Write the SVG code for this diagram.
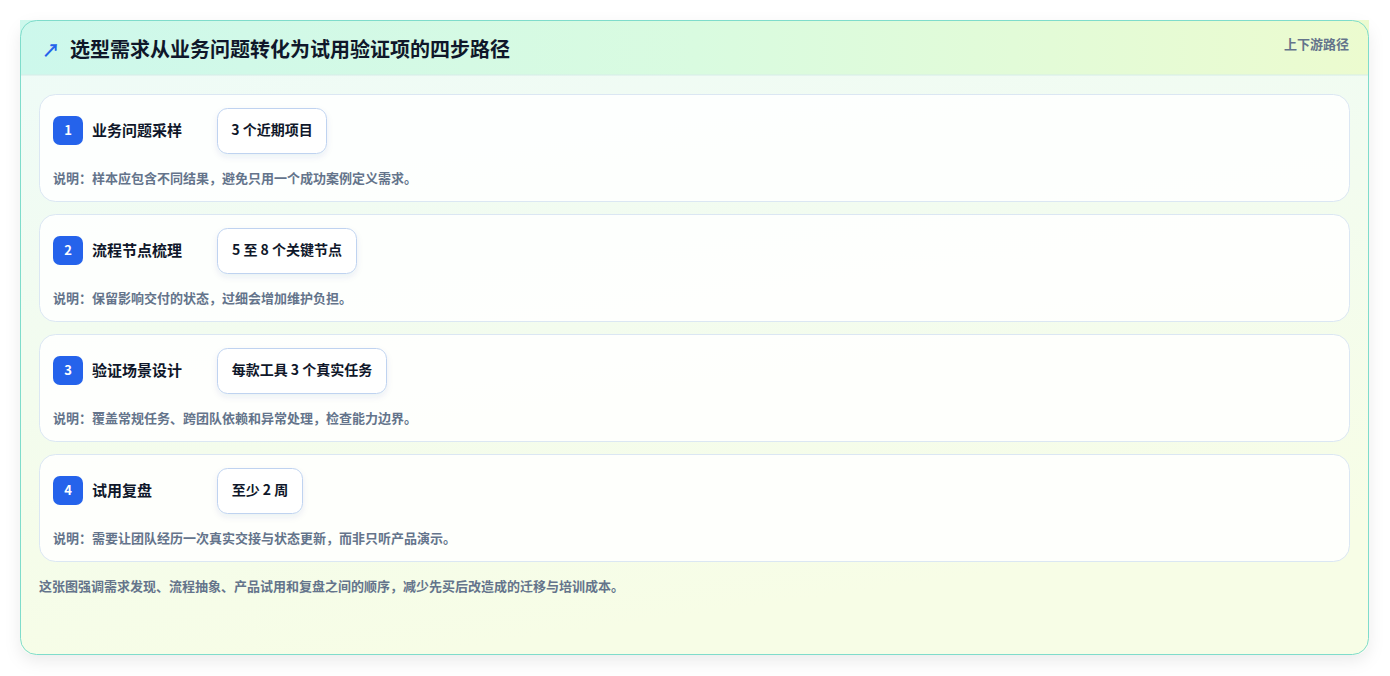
<svg xmlns="http://www.w3.org/2000/svg" width="1390" height="676" viewBox="0 0 1390 676">
<defs>
<linearGradient id="hdr" x1="0" y1="0" x2="1" y2="0">
<stop offset="0" stop-color="#cdf8ec"/>
<stop offset="0.5" stop-color="#d9fbe0"/>
<stop offset="1" stop-color="#ecfbcf"/>
</linearGradient>
<linearGradient id="body" x1="0" y1="0" x2="0.3" y2="1">
<stop offset="0" stop-color="#eefbf8"/>
<stop offset="1" stop-color="#f7fde6"/>
</linearGradient>
<filter id="sh" x="-5%" y="-5%" width="110%" height="115%">
<feDropShadow dx="0" dy="6" stdDeviation="8" flood-color="#0f172a" flood-opacity="0.08"/>
</filter>
<filter id="psh" x="-20%" y="-20%" width="140%" height="160%">
<feDropShadow dx="0" dy="3" stdDeviation="3" flood-color="#1e3a8a" flood-opacity="0.08"/>
</filter>
</defs>
<style>
.f{font-family:"Noto Sans CJK SC","Noto Sans",sans-serif;}
.title{font-size:20px;font-weight:700;fill:#0f172a;}
.tag{font-size:13px;font-weight:700;fill:#64748b;}
.step{fill:#ffffff;fill-opacity:0.85;stroke:#dbe7f3;stroke-width:1;}
.badge{fill:#2563eb;}
.num{font-size:13px;font-weight:700;fill:#ffffff;text-anchor:middle;}
.name{font-size:15px;font-weight:700;fill:#0f172a;}
.pill{fill:#ffffff;stroke:#bfd3f0;stroke-width:1;}
.pt{font-size:14px;font-weight:700;fill:#0f172a;}
.desc{font-size:13px;font-weight:700;fill:#64748b;}
</style>
<rect x="0" y="0" width="1390" height="676" fill="#ffffff"/>
<g id="card">
<rect x="20" y="20" width="1349" height="635" rx="16" fill="url(#body)" filter="url(#sh)"/>
<rect x="20" y="20" width="1349" height="55" fill="url(#hdr)"/>
<line x1="20" y1="75" x2="1369" y2="75" stroke="#d6ece8" stroke-width="1"/>
<rect x="20.5" y="20.5" width="1348" height="634" rx="16" fill="none" stroke="#7fdccb" stroke-width="1"/>
<text class="f" x="42" y="57" font-size="18" font-weight="700" fill="#2563eb">↗</text>
<text class="f title" x="70" y="57">选型需求从业务问题转化为试用验证项的四步路径</text>
<text class="f tag" x="1349" y="49" text-anchor="end">上下游路径</text>
</g>
<g id="step1">
<rect class="step" x="39.5" y="94.5" width="1310" height="107" rx="16"/>
<rect class="badge" x="53" y="116" width="30" height="29" rx="7"/>
<text class="f num" x="68" y="135">1</text>
<text class="f name" x="92" y="136">业务问题采样</text>
<rect class="pill" x="217.5" y="108.5" width="109" height="45" rx="10" filter="url(#psh)"/>
<text class="f pt" x="272" y="135" text-anchor="middle">3 个近期项目</text>
<text class="f desc" x="53" y="183">说明：样本应包含不同结果，避免只用一个成功案例定义需求。</text>
</g>
<g id="step2">
<rect class="step" x="39.5" y="214.5" width="1310" height="107" rx="16"/>
<rect class="badge" x="53" y="236" width="30" height="29" rx="7"/>
<text class="f num" x="68" y="255">2</text>
<text class="f name" x="92" y="256">流程节点梳理</text>
<rect class="pill" x="217.5" y="228.5" width="139" height="45" rx="10" filter="url(#psh)"/>
<text class="f pt" x="287" y="255" text-anchor="middle">5 至 8 个关键节点</text>
<text class="f desc" x="53" y="303">说明：保留影响交付的状态，过细会增加维护负担。</text>
</g>
<g id="step3">
<rect class="step" x="39.5" y="334.5" width="1310" height="107" rx="16"/>
<rect class="badge" x="53" y="356" width="30" height="29" rx="7"/>
<text class="f num" x="68" y="375">3</text>
<text class="f name" x="92" y="376">验证场景设计</text>
<rect class="pill" x="217.5" y="348.5" width="169" height="45" rx="10" filter="url(#psh)"/>
<text class="f pt" x="302" y="375" text-anchor="middle">每款工具 3 个真实任务</text>
<text class="f desc" x="53" y="423">说明：覆盖常规任务、跨团队依赖和异常处理，检查能力边界。</text>
</g>
<g id="step4">
<rect class="step" x="39.5" y="454.5" width="1310" height="107" rx="16"/>
<rect class="badge" x="53" y="476" width="30" height="29" rx="7"/>
<text class="f num" x="68" y="495">4</text>
<text class="f name" x="92" y="496">试用复盘</text>
<rect class="pill" x="217.5" y="468.5" width="85" height="45" rx="10" filter="url(#psh)"/>
<text class="f pt" x="260" y="495" text-anchor="middle">至少 2 周</text>
<text class="f desc" x="53" y="543">说明：需要让团队经历一次真实交接与状态更新，而非只听产品演示。</text>
</g>
<g id="connectors"></g>
<text class="f desc" x="39" y="591">这张图强调需求发现、流程抽象、产品试用和复盘之间的顺序，减少先买后改造成的迁移与培训成本。</text>
</svg>
